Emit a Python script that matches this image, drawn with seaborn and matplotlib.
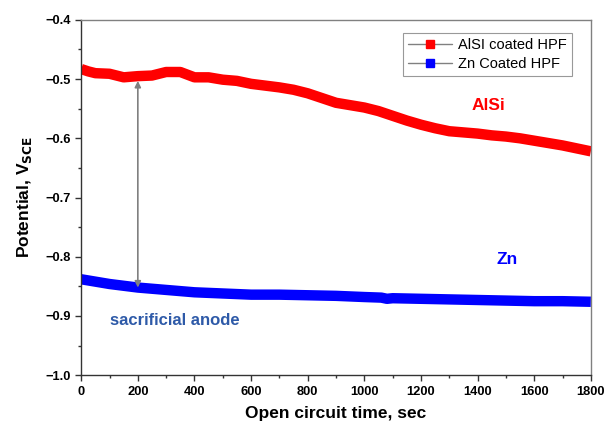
import matplotlib
matplotlib.use("Agg")
import matplotlib.pyplot as plt
from matplotlib.lines import Line2D
from matplotlib.ticker import MultipleLocator
import pandas as pd
import seaborn as sns

sns.set_theme(style="white")
plt.rcParams['font.family'] = ['Liberation Sans', 'DejaVu Sans']

# time (sec) and open circuit potential (V vs SCE)
time_alsi = [0, 25, 50, 100, 150, 200, 250, 300, 350, 400, 450, 500, 550, 600, 650,
             700, 750, 800, 850, 900, 950, 1000, 1050, 1100, 1150, 1200, 1250,
             1300, 1350, 1400, 1450, 1500, 1550, 1600, 1650, 1700, 1750, 1800]
pot_alsi = [-0.483, -0.487, -0.490, -0.491, -0.497, -0.495, -0.494, -0.488, -0.488,
            -0.497, -0.497, -0.501, -0.503, -0.508, -0.511, -0.514, -0.518, -0.524,
            -0.532, -0.540, -0.544, -0.548, -0.554, -0.562, -0.570, -0.577, -0.583,
            -0.588, -0.590, -0.592, -0.595, -0.597, -0.600, -0.604, -0.608, -0.612,
            -0.617, -0.622]
time_zn = [0, 100, 200, 300, 400, 500, 600, 700, 800, 900, 1000, 1060, 1080, 1100,
           1200, 1300, 1400, 1500, 1600, 1700, 1800]
pot_zn = [-0.838, -0.846, -0.852, -0.856, -0.860, -0.862, -0.864, -0.864, -0.865,
          -0.866, -0.868, -0.869, -0.871, -0.870, -0.871, -0.872, -0.873, -0.874,
          -0.875, -0.875, -0.876]

alsi = pd.DataFrame({"time": time_alsi, "pot": pot_alsi})
zn = pd.DataFrame({"time": time_zn, "pot": pot_zn})

fig = plt.figure(figsize=(6.06, 4.23), dpi=100)
ax = fig.add_axes([0.134, 0.113, 0.841, 0.840])

sns.lineplot(data=alsi, x="time", y="pot", color="#ff0000", lw=7.5, ax=ax,
             solid_capstyle="butt", legend=False)
sns.lineplot(data=zn, x="time", y="pot", color="#0000ff", lw=7.5, ax=ax,
             solid_capstyle="butt", legend=False)

# double arrow between the two curves
ax.annotate("", xy=(200, -0.503), xytext=(200, -0.852),
            arrowprops=dict(arrowstyle="<|-|>", color="#808080", lw=1.2,
                            mutation_scale=9, shrinkA=0, shrinkB=0))

ax.text(1440, -0.545, "AlSi", color="#ff0000", fontsize=12.5, fontweight="bold",
        ha="center", va="center")
ax.text(1505, -0.805, "Zn", color="#0000ff", fontsize=12.5, fontweight="bold",
        ha="center", va="center")
ax.text(100, -0.907, "sacrificial anode", color="#2e5aa8", fontsize=12,
        fontweight="bold", ha="left", va="center")

ax.set_xlim(0, 1800)
ax.set_ylim(-1.0, -0.4)
ax.xaxis.set_major_locator(MultipleLocator(200))
ax.xaxis.set_minor_locator(MultipleLocator(100))
ax.yaxis.set_major_locator(MultipleLocator(0.1))
ax.yaxis.set_minor_locator(MultipleLocator(0.05))
ax.yaxis.set_major_formatter(lambda v, p: f"{v:.1f}".replace("-", "\u2212"))

ax.tick_params(which="major", direction="out", length=4, width=1, colors="#333333",
               labelcolor="black", labelsize=9.3, left=True, bottom=True)
ax.tick_params(which="minor", direction="out", length=2.5, width=1, colors="#333333",
               left=True, bottom=True)
for lab in ax.get_xticklabels() + ax.get_yticklabels():
    lab.set_fontweight("bold")

for s in ["left", "bottom"]:
    ax.spines[s].set_color("#333333")
    ax.spines[s].set_linewidth(1.0)
for s in ["top", "right"]:
    ax.spines[s].set_color("#808080")
    ax.spines[s].set_linewidth(1.0)

ax.set_xlabel("Open circuit time, sec", fontsize=12.5, fontweight="bold",
              labelpad=6, color="black")
ax.set_ylabel(r"Potential, V$_{\mathbf{SCE}}$", fontsize=12.5, fontweight="bold",
              labelpad=8, color="black")

handles = [Line2D([], [], color="#808080", lw=1, marker="s", markersize=6,
                  markerfacecolor="#ff0000", markeredgecolor="#ff0000"),
           Line2D([], [], color="#808080", lw=1, marker="s", markersize=6,
                  markerfacecolor="#0000ff", markeredgecolor="#0000ff")]
leg = ax.legend(handles, ["AlSI coated HPF", "Zn Coated HPF"], loc="upper right",
                bbox_to_anchor=(0.977, 0.983), fontsize=10.5, frameon=True,
                fancybox=False, edgecolor="#808080", handlelength=3.0,
                handletextpad=0.4, borderpad=0.35, labelspacing=0.3)
leg.get_frame().set_linewidth(0.8)
for t in leg.get_texts():
    t.set_color("black")

fig.savefig("out.png", dpi=100, facecolor="white")
